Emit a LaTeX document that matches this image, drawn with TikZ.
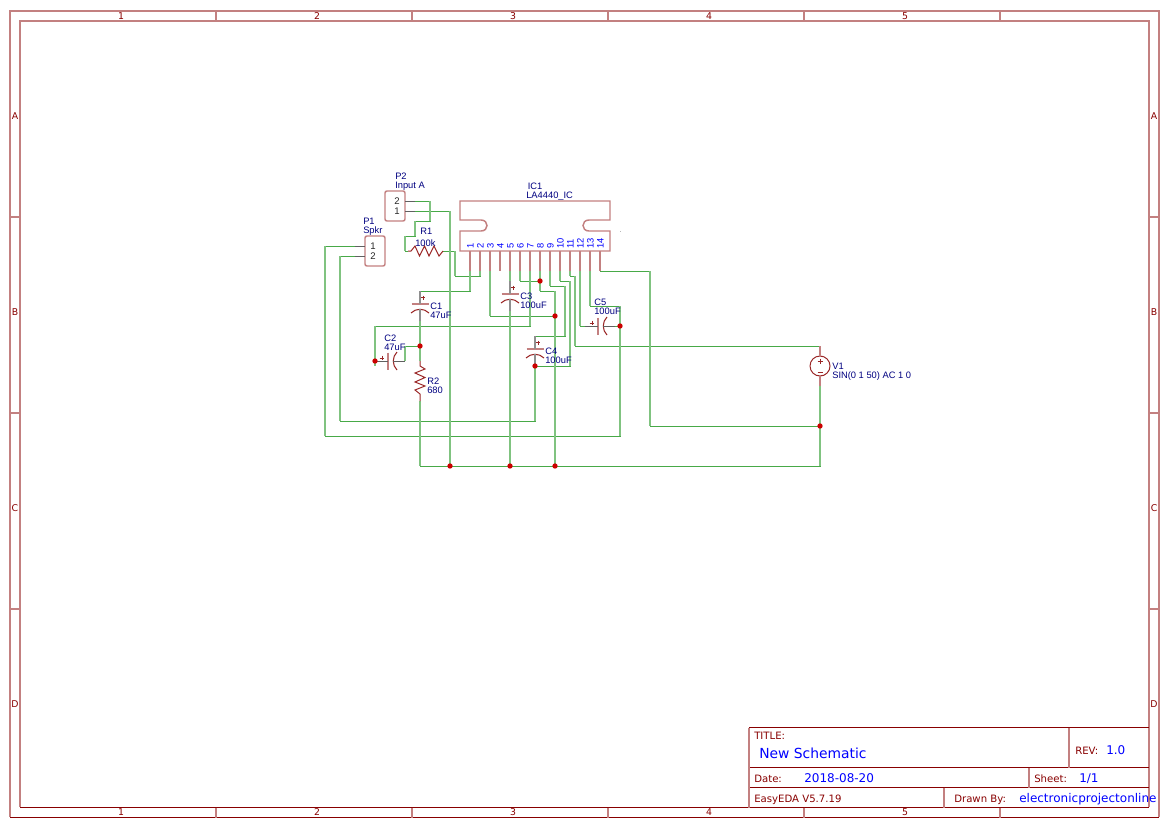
\documentclass[tikz,border=0pt]{standalone}
\usepackage{fontspec}
\setmainfont{Liberation Sans}
\newfontfamily\tbfont{DejaVu Sans}
\definecolor{frm}{HTML}{880000}
\definecolor{wire}{HTML}{008800}
\definecolor{junc}{HTML}{CC0000}
\definecolor{lblc}{HTML}{000080}
\definecolor{pinc}{HTML}{444444}
\newcommand{\capV}[3]{%x, center y, name
  \draw[partsoft] (#1-8.5,#2-2) -- (#1+8.5,#2-2);
  \draw[partmid] (#1-9,#2+7) .. controls (#1-4,#2+2) and (#1+4,#2+2) .. (#1+9,#2+7);
  \draw[partmid] (#1+3,#2-10.5) -- (#1+3,#2-6) (#1+0.7,#2-8.2) -- (#1+5.3,#2-8.2);
  \draw[pinv] (#3t) -- (#1,#2-2) (#1,#2+3) -- (#3b);}
\newcommand{\capH}[3]{%center x, y, name
  \draw[partsoft] (#1-2,#2-8.5) -- (#1-2,#2+8.5);
  \draw[partmid] (#1+7,#2-9) .. controls (#1+2,#2-4) and (#1+2,#2+4) .. (#1+7,#2+9);
  \draw[partmid] (#1-10.3,#2-3) -- (#1-5.7,#2-3) (#1-8,#2-5.3) -- (#1-8,#2-0.7);
  \draw[pinh] (#3l) -- (#1-2,#2) (#1+3,#2) -- (#3r);}
\tikzset{
  x=0.75pt,y=-0.75pt,
  framesoft/.style={draw=frm!50!white,line width=1.5pt},
  framesharp/.style={draw=frm,line width=0.75pt},
  partsoft/.style={draw=frm!50!white,line width=1.1pt},
  partmid/.style={draw=frm!85!white,line width=0.75pt},
  pinh/.style={draw=pinc!85!white,line width=0.75pt},
  pinv/.style={draw=pinc!60!white,line width=1.5pt},
  net/.style={draw=wire!72!white,line width=0.75pt,line join=miter},
  netv/.style={draw=wire!50!white,line width=1.5pt},
  jdot/.style={circle,fill=junc,draw=none,minimum size=4pt,inner sep=0pt},
  lbl/.style={anchor=base west,inner sep=0pt,text=lblc,font=\fontsize{7}{7}\selectfont},
  pnum/.style={anchor=center,inner sep=0pt,text=black!85,font=\fontsize{7.2}{7.2}\selectfont},
  icnum/.style={rotate=90,anchor=base west,inner sep=0pt,text=blue,font=\fontsize{7}{7}\selectfont},
  grid/.style={anchor=center,inner sep=0pt,text=frm,font=\tbfont\fontsize{7}{7}\selectfont},
  tbk/.style={anchor=base west,inner sep=0pt,text=frm,font=\tbfont\fontsize{7.6}{7.6}\selectfont},
  tbv/.style={anchor=base west,inner sep=0pt,text=blue,font=\tbfont\fontsize{9}{9}\selectfont},
}
\begin{document}
\begin{tikzpicture}
\useasboundingbox (0,0) rectangle (1169,828);
% sheet frame
\draw[framesoft] (10,817) -- (10,11) -- (1159,11) -- (1159,817);
\draw[framesoft] (20,807) -- (20,21) -- (1149,21) -- (1149,807);
\draw[framesharp] (10,817.5) -- (1159,817.5) (20,807.5) -- (1149,807.5);
\foreach \x in {216,412,608,804,1000}{
  \draw[framesoft] (\x,11) -- (\x,21) (\x,807.5) -- (\x,817.5);}
\foreach \y in {217,413,609}{
  \draw[framesoft] (10,\y) -- (20,\y) (1149,\y) -- (1159,\y);}
\foreach \n/\x in {1/121,2/317,3/513,4/709,5/905}{
  \node[grid] (top\n) at (\x,16) {\n};
  \node[grid] (bot\n) at (\x,812.5) {\n};}
\foreach \n/\y in {A/116,B/312,C/508,D/704}{
  \node[grid] (lft\n) at (15,\y) {\n};
  \node[grid] (rgt\n) at (1154,\y) {\n};}
% title block
\draw[framesharp] (749,727.5) -- (1149,727.5) (749,767.5) -- (1149,767.5) (749,787.5) -- (1149,787.5);
\draw[framesoft] (749,727.5) -- (749,807.5) (1069,727.5) -- (1069,767.5) (1029,767.5) -- (1029,787.5) (944,787.5) -- (944,807.5);
\node[tbk] (ttl) at (754,739) {TITLE:};
\node[tbv,font=\tbfont\fontsize{10.4}{10.4}\selectfont] (ttlv) at (759,758) {New Schematic};
\node[tbk] (rev) at (1075,754) {REV:};
\node[tbv] (revv) at (1106,754) {1.0};
\node[tbk] (dat) at (754,782) {Date:};
\node[tbv] (datv) at (804,782) {2018-08-20};
\node[tbk] (sht) at (1034,782) {Sheet:};
\node[tbv] (shtv) at (1079,782) {1/1};
\node[tbk] (eda) at (754,802.5) {EasyEDA V5.7.19};
\node[tbk] (drw) at (954,802.5) {Drawn By:};
\node[tbv] (drwv) at (1019,802.5) {electronicprojectonline};
% coordinates
\foreach \n/\x in {1/470,2/480,3/490,4/500,5/510,6/520,7/530,8/540,9/550,10/560,11/570,12/580,13/590,14/600}{
  \coordinate (ic\n) at (\x,271);
  \node[icnum] (icn\n) at (\x+3.5,249) {\n};}
\coordinate (p2a) at (415,201); \coordinate (p2b) at (415,211);
\coordinate (p1a) at (355,246); \coordinate (p1b) at (355,256);
\coordinate (r1l) at (408,251); \coordinate (r1r) at (443,251);
\coordinate (r2t) at (420,361); \coordinate (r2b) at (420,401);
\coordinate (c1t) at (420,291); \coordinate (c1b) at (420,321);
\coordinate (c3t) at (510,281); \coordinate (c3b) at (510,311);
\coordinate (c4t) at (535,336); \coordinate (c4b) at (535,366);
\coordinate (c2l) at (375,361); \coordinate (c2r) at (405,361);
\coordinate (c5l) at (585,326); \coordinate (c5r) at (615,326);
\coordinate (v1t) at (820,346); \coordinate (v1b) at (820,386);
% wires: full runs
\draw[net] (p2a) -- (430,201) -- (430,221) -- (415,221) -- (415,236) -- (405,236) -- (405,251) -- (r1l);
\draw[net] (p2b) -- (450,211) -- (450,466);
\draw[net] (r1r) -- (455,251) -- (455,276) -- (480,276) -- (ic2);
\draw[net] (ic1) -- (470,291) -- (c1t);
\draw[net] (c1b) -- (r2t);
\draw[net] (r2b) -- (420,466) -- (820,466) -- (v1b);
\draw[net] (ic3) -- (490,316) -- (555,316);
\draw[net] (ic5) -- (c3t);
\draw[net] (c3b) -- (510,466);
\draw[net] (ic6) -- (520,281) -- (540,281);
\draw[net] (ic8) -- (540,291) -- (555,291) -- (555,466);
\draw[net] (ic7) -- (530,326) -- (375,326) -- (375,366);
\draw[net] (ic9) -- (550,286) -- (565,286) -- (565,336) -- (c4t);
\draw[net] (ic10) -- (560,281) -- (570,281) -- (570,366) -- (c4b);
\draw[net] (ic11) -- (570,276) -- (575,276) -- (575,346) -- (820,346) -- (v1t);
\draw[net] (ic12) -- (580,326) -- (c5l);
\draw[net] (ic13) -- (590,306) -- (620,306) -- (620,326);
\draw[net] (c5r) -- (620,326) -- (620,436) -- (325,436) -- (325,246) -- (p1a);
\draw[net] (p1b) -- (340,256) -- (340,421) -- (535,421) -- (c4b);
\draw[net] (c2r) -- (405,346) -- (420,346);
\draw[net] (ic14) -- (650,271) -- (650,426) -- (820,426);
% wires: vertical runs are softer and wider in the reference
\draw[netv] (430,201) -- (430,221) (415,221) -- (415,236) (405,236) -- (405,251)
  (450,211) -- (450,466) (455,251) -- (455,276) (480,276) -- (ic2) (ic1) -- (470,291)
  (c1b) -- (r2t) (r2b) -- (420,466) (820,466) -- (v1b) (ic3) -- (490,316)
  (ic5) -- (c3t) (c3b) -- (510,466) (ic6) -- (520,281) (ic8) -- (540,291)
  (555,291) -- (555,466) (ic7) -- (530,326) (375,326) -- (375,366) (ic9) -- (550,286)
  (565,286) -- (565,336) (ic10) -- (560,281) (570,281) -- (570,366) (ic11) -- (570,276)
  (575,276) -- (575,346) (ic12) -- (580,326) (ic13) -- (590,306) (620,306) -- (620,436)
  (325,436) -- (325,246) (340,256) -- (340,421) (535,421) -- (c4b) (405,346) -- (c2r)
  (650,271) -- (650,426) (535,336) -- (c4t);
% IC pins
\foreach \x in {470,480,490,500,510,520,530,540,550,560,570,580,590,600}{
  \draw[framesoft] (\x,251) -- (\x,271);}
% IC body
\draw[partsoft] (460,201) -- (610,201) -- (610,220) -- (589,220) .. controls (581,220) and (581,231) .. (589,231) -- (610,231) -- (610,251) -- (460,251) -- (460,231) -- (481,231) .. controls (489,231) and (489,220) .. (481,220) -- (460,220) -- cycle;
\node[lbl,text=black!60,font=\fontsize{5}{5}\selectfont] (icdot) at (619.3,232) {.};
% connectors
\draw[partsoft,rounded corners=1.5pt] (385,191) rectangle (405,221);
\draw[partsoft,rounded corners=1.5pt] (365,236) rectangle (385,266);
\draw[pinh] (405,201) -- (p2a) (405,211) -- (p2b) (365,246) -- (p1a) (365,256) -- (p1b);
\node[pnum] (n22) at (397,201) {2};
\node[pnum] (n21) at (397,211) {1};
\node[pnum] (n11) at (373,246) {1};
\node[pnum] (n12) at (373,256) {2};
% resistors
\draw[partmid] (r1l) -- (411,251) -- (415,246) -- (419.5,256) -- (424.5,246) -- (429,256) -- (434,246) -- (439,256) -- (r1r);
\draw[partmid] (r2t) -- (420,366) -- (425,369) -- (415,373) -- (425,377.5) -- (415,382) -- (425,386) -- (415,390) -- (420,394) -- (r2b);
% capacitors
\capV{420}{306}{c1}
\capV{510}{296}{c3}
\capV{535}{351}{c4}
\capH{390}{361}{c2}
\capH{600}{326}{c5}
% source
\draw[partmid] (820,366) circle[radius=10];
\draw[framesoft] (v1t) -- (820,356) (820,376) -- (v1b);
\draw[partmid] (817.5,361) -- (822.5,361) (820,358.5) -- (820,363.5) (817.5,372) -- (822.5,372);
% junctions
\node[jdot] (j1) at (540,281) {};
\node[jdot] (j2) at (555,316) {};
\node[jdot] (j3) at (420,346) {};
\node[jdot] (j4) at (375,361) {};
\node[jdot] (j5) at (535,366) {};
\node[jdot] (j6) at (620,326) {};
\node[jdot] (j7) at (820,426) {};
\node[jdot] (j8) at (450,466) {};
\node[jdot] (j9) at (510,466) {};
\node[jdot] (j10) at (555,466) {};
% labels
\node[lbl] (l1) at (527.5,189) {IC1};
\node[lbl] (l2) at (526,198) {LA4440\_IC};
\node[lbl] (l3) at (395,179) {P2};
\node[lbl] (l4) at (395,188) {Input A};
\node[lbl] (l5) at (363,224) {P1};
\node[lbl] (l6) at (363,233) {Spkr};
\node[lbl] (l7) at (420,234) {R1};
\node[lbl] (l8) at (415,246) {100k};
\node[lbl] (l9) at (430,309) {C1};
\node[lbl] (l10) at (430,318) {47uF};
\node[lbl] (l11) at (384,341) {C2};
\node[lbl] (l12) at (384,350) {47uF};
\node[lbl] (l13) at (427,384) {R2};
\node[lbl] (l14) at (427,393) {680};
\node[lbl] (l15) at (520,299) {C3};
\node[lbl] (l16) at (520,308) {100uF};
\node[lbl] (l17) at (545,354) {C4};
\node[lbl] (l18) at (545,363) {100uF};
\node[lbl] (l19) at (594,305) {C5};
\node[lbl] (l20) at (594,314) {100uF};
\node[lbl] (l21) at (832,369) {V1};
\node[lbl] (l22) at (832,378) {SIN(0 1 50) AC 1 0};
\end{tikzpicture}
\end{document}
